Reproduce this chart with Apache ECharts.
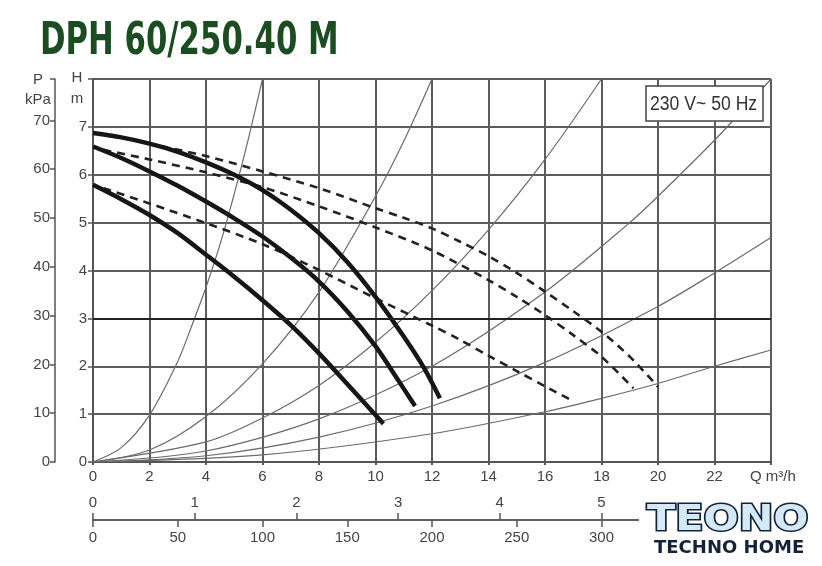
<!DOCTYPE html>
<html><head><meta charset="utf-8">
<script src="https://cdn.jsdelivr.net/npm/echarts@6/dist/echarts.min.js"></script>
<style>html,body{margin:0;padding:0;background:#fff}#c{width:822px;height:566px}</style>
</head><body><div id="c"></div>
<script>
const TITLE = 'DPH 60/250.40 M';
const SUPPLY = '230 V~ 50 Hz';
const LOGO_BIG = 'TEONO';
const LOGO_SMALL = 'TECHNO HOME';

// axis ranges (Q m3/h, H m, P kPa, l/s, l/min)
const Q_MAX = 24, H_MAX = 8, KPA_MAX = 78.48, LS_MAX = 6.667, LMIN_MAX = 400;

// pump curves, [Q m3/h, H m]
const solidTop = [[0,6.87],[1,6.78],[2,6.65],[3,6.48],[4,6.26],[5,6.0],[6,5.68],[7,5.27],[8,4.78],[9,4.18],[10,3.45],[11,2.62],[11.7,1.98],[12.28,1.33]];
const solidMid = [[0,6.59],[1,6.35],[2,6.07],[3,5.77],[4,5.44],[5,5.09],[6,4.71],[7,4.27],[8,3.77],[9,3.15],[10,2.42],[10.7,1.8],[11.4,1.17]];
const solidLow = [[0,5.79],[1,5.49],[2,5.16],[3,4.78],[4,4.33],[5,3.87],[6,3.38],[7,2.86],[8,2.27],[9,1.63],[10,0.98],[10.28,0.8]];
const dashTop = [[2.4,6.6],[4,6.39],[6,6.07],[8,5.72],[10,5.3],[11,5.1],[12,4.88],[13,4.6],[14,4.3],[15,3.95],[16,3.56],[17,3.15],[18,2.72],[19,2.2],[20,1.57]];
const dashMid = [[0.37,6.52],[2,6.32],[4,6.05],[6,5.74],[8,5.34],[10,4.9],[12,4.42],[14,3.8],[15,3.45],[16,3.07],[17,2.65],[18,2.2],[19.13,1.54]];
const dashLow = [[0.37,5.72],[2,5.4],[4,4.99],[6,4.55],[8,4.01],[10,3.42],[12,2.85],[13,2.55],[14,2.22],[15,1.9],[16,1.58],[17,1.27]];

// system curves (thin grey), [Q m3/h, H m]
const sys1 = [[0,0],[1,0.3],[2,0.98],[3,2.1],[3.5,2.85],[4,3.65],[4.5,4.55],[5,5.6],[5.5,6.75],[6,8]];
const sys2 = [[0,0],[2,0.25],[4,0.95],[6,2.05],[8,3.55],[10,5.55],[11,6.7],[12,8]];
const sys3 = [[0,0],[4,0.42],[6,0.92],[8,1.6],[10,2.5],[12,3.58],[14,4.85],[16,6.32],[18,8]];
const sys4 = [[0,0],[4,0.23],[8,0.9],[12,2.0],[16,3.55],[19,5.0],[20,5.55],[22,6.72],[24,8]];
const sys5 = [[0,0],[4,0.13],[8,0.52],[12,1.17],[16,2.08],[20,3.25],[22,3.95],[24,4.69]];
const sys6 = [[0,0],[6,0.15],[12,0.59],[16,1.05],[18,1.33],[20,1.64],[22,2.0],[24,2.34]];

const FONT = "'Liberation Sans', Arial, sans-serif";
const COND = "'DejaVu Sans Condensed', 'Liberation Sans', sans-serif";
const AX = '#555', TXT = '#444';

function mk(data, kind) {
  const st = {
    sys: {color: '#6a6a6a', width: 1.2, type: 'solid'},
    solid: {color: '#161616', width: 4.5, type: 'solid'},
    dash: {color: '#222', width: 2.6, type: [8, 6]}
  }[kind];
  return {type: 'line', data: data, smooth: 0.3, symbol: 'none', xAxisIndex: 0, yAxisIndex: 0,
    lineStyle: st, z: kind === 'sys' ? 2 : (kind === 'dash' ? 3 : 4), silent: true, animation: false};
}

const series = [
  mk(sys1, 'sys'), mk(sys2, 'sys'), mk(sys3, 'sys'), mk(sys4, 'sys'), mk(sys5, 'sys'), mk(sys6, 'sys'),
  mk(dashTop, 'dash'), mk(dashMid, 'dash'), mk(dashLow, 'dash'),
  mk(solidTop, 'solid'), mk(solidMid, 'solid'), mk(solidLow, 'solid')
];
// darker 3 m gridline
series[0].markLine = {silent: true, symbol: 'none', label: {show: false},
  lineStyle: {color: '#222', width: 2, type: 'solid'}, data: [{yAxis: 3}]};

const chart = echarts.init(document.getElementById('c'));
const lblStyle = {color: TXT, fontSize: 15, fontFamily: FONT};
chart.setOption({
  animation: false,
  grid: {left: 93, right: 51, top: 79, bottom: 104},
  xAxis: [
    {type: 'value', min: 0, max: Q_MAX, interval: 2, position: 'bottom',
     axisLine: {show: true, lineStyle: {color: AX, width: 2}},
     axisTick: {show: true, length: 3, lineStyle: {color: AX, width: 2}},
     axisLabel: Object.assign({margin: 7, formatter: v => v >= Q_MAX ? '' : String(v)}, lblStyle),
     splitLine: {show: true, lineStyle: {color: '#5c5c5c', width: 2}}},
    {type: 'value', min: 0, max: LS_MAX, interval: 1, position: 'bottom', offset: 58,
     axisLine: {show: true, onZero: false, lineStyle: {color: AX, width: 1.5}},
     axisTick: {show: true, inside: true, length: 7, lineStyle: {color: AX, width: 1.5}},
     axisLabel: Object.assign({inside: true, margin: 10, formatter: v => Number.isInteger(v) ? String(v) : ''}, lblStyle),
     splitLine: {show: false}},
    {type: 'value', min: 0, max: LMIN_MAX, interval: 50, position: 'bottom', offset: 58,
     axisLine: {show: true, onZero: false, lineStyle: {color: AX, width: 1.5}},
     axisTick: {show: true, length: 7, lineStyle: {color: AX, width: 1.5}},
     axisLabel: Object.assign({margin: 10}, lblStyle),
     splitLine: {show: false}}
  ],
  yAxis: [
    {type: 'value', min: 0, max: H_MAX, interval: 1, position: 'left',
     axisLine: {show: true, lineStyle: {color: AX, width: 2}},
     axisTick: {show: true, length: 5, lineStyle: {color: AX, width: 1.5}},
     axisLabel: Object.assign({margin: 6, formatter: v => v >= H_MAX ? '' : String(v)}, lblStyle),
     splitLine: {show: true, lineStyle: {color: '#5c5c5c', width: 2}}},
    {type: 'value', min: 0, max: KPA_MAX, interval: 10, position: 'left', offset: 38,
     axisLine: {show: true, onZero: false, lineStyle: {color: AX, width: 1.5}},
     axisTick: {show: true, length: 5, lineStyle: {color: AX, width: 1.5}},
     axisLabel: Object.assign({margin: 5, formatter: v => (v % 10 === 0) ? String(v) : ''}, lblStyle),
     splitLine: {show: false}}
  ],
  series: series,
  graphic: [
    {type: 'text', x: 40, y: 42, scaleX: 0.76, style: {text: TITLE, fill: '#1c4d21', font: "bold 45px " + COND, align: 'left', verticalAlign: 'middle'}},
    {type: 'text', x: 38, y: 80, style: {text: 'P', fill: TXT, font: '15px ' + FONT, align: 'center', verticalAlign: 'middle'}},
    {type: 'text', x: 38, y: 100, style: {text: 'kPa', fill: TXT, font: '15px ' + FONT, align: 'center', verticalAlign: 'middle'}},
    {type: 'text', x: 77, y: 78, style: {text: 'H', fill: TXT, font: '15px ' + FONT, align: 'center', verticalAlign: 'middle'}},
    {type: 'text', x: 77, y: 99, style: {text: 'm', fill: TXT, font: '15px ' + FONT, align: 'center', verticalAlign: 'middle'}},
    {type: 'text', x: 750, y: 477, style: {text: 'Q m³/h', fill: TXT, font: '15px ' + FONT, align: 'left', verticalAlign: 'middle'}},
    {type: 'rect', shape: {x: 646, y: 86, width: 117, height: 35}, style: {fill: '#fff', stroke: '#444', lineWidth: 1.5}, z: 10},
    {type: 'text', x: 650, y: 104, scaleX: 0.88, z: 11, style: {text: SUPPLY, fill: '#333', font: '20px ' + FONT, align: 'left', verticalAlign: 'middle'}},
    {type: 'rect', shape: {x: 639, y: 494, width: 183, height: 70}, style: {fill: '#fff'}, z: 20},
    {type: 'text', x: 647, y: 521, scaleX: 1.15, z: 21, style: {text: LOGO_BIG, font: 'bold 36px "DejaVu Sans"', align: 'left', verticalAlign: 'middle',
      fill: '#d3e9f5', stroke: '#10213a', lineWidth: 3}},
    {type: 'text', x: 654, y: 549, scaleX: 1.06, z: 21, style: {text: LOGO_SMALL, font: 'bold 17px "DejaVu Sans"', fill: '#15233a', align: 'left', verticalAlign: 'middle'}}
  ]
});
</script></body></html>
